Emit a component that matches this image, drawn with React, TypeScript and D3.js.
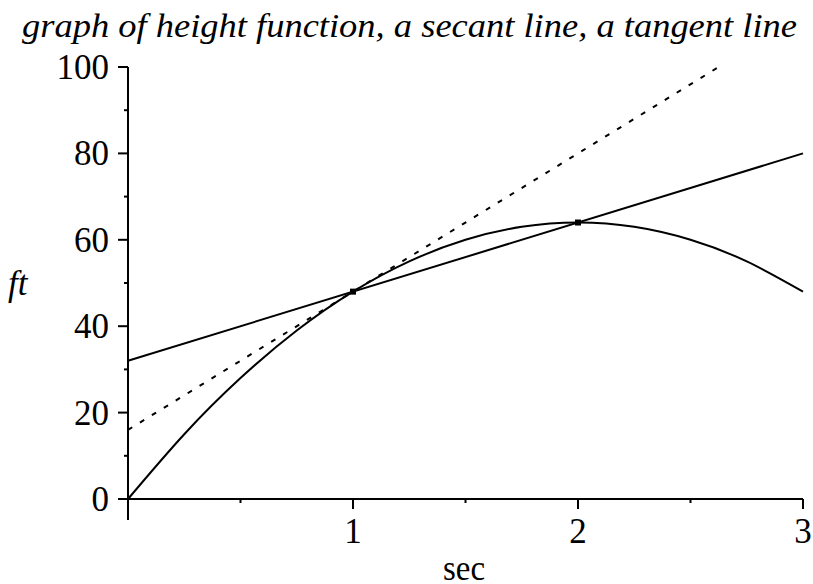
import React, { useRef, useEffect } from 'react';
import * as d3 from 'd3';

// values
const times = [0, 0.25, 0.5, 0.75, 1, 1.25, 1.5, 1.75, 2, 2.25, 2.5, 2.75, 3];
const heights = [0, 15, 28, 39, 48, 55, 60, 63, 64, 63, 60, 55, 48];
const secantPts = [[0, 32], [3, 80]];
const tangentPts = [[0, 16], [2.625, 100]];
const markedPts = [[1, 48], [2, 64]];
const xTicks = [1, 2, 3];
const xMinor = [0.5, 1.5, 2.5];
const yTicks = [0, 20, 40, 60, 80, 100];
const yMinor = [10, 30, 50, 70, 90];

const App = () => {
  const svgRef = useRef<SVGSVGElement>(null);

  useEffect(() => {
    const width = 813;
    const height = 584;
    const svg = d3.select(svgRef.current);
    svg.selectAll("*").remove();
    svg.attr("width", width).attr("height", height);

    const x = d3.scaleLinear().domain([0, 3]).range([128, 803]);
    const y = d3.scaleLinear().domain([0, 100]).range([499, 67]);
    const font = "'Liberation Serif', 'Times New Roman', serif";

    svg.append("text")
      .attr("x", 22).attr("y", 37)
      .attr("font-family", font).attr("font-style", "italic")
      .attr("font-size", 34)
      .attr("textLength", 775).attr("lengthAdjust", "spacingAndGlyphs")
      .text("graph of height function, a secant line, a tangent line");

    const ax = svg.append("g").attr("stroke", "#000").attr("stroke-width", 2);
    // axis lines
    ax.append("line").attr("x1", 118).attr("x2", x(3)).attr("y1", y(0)).attr("y2", y(0));
    ax.append("line").attr("x1", x(0)).attr("x2", x(0)).attr("y1", y(100)).attr("y2", 520);
    ax.selectAll(".xt").data(xTicks).enter().append("line")
      .attr("x1", d => x(d)).attr("x2", d => x(d)).attr("y1", y(0)).attr("y2", y(0) + 10);
    ax.selectAll(".xm").data(xMinor).enter().append("line")
      .attr("x1", d => x(d)).attr("x2", d => x(d)).attr("y1", y(0)).attr("y2", y(0) + 4);
    ax.selectAll(".yt").data(yTicks).enter().append("line")
      .attr("x1", x(0) - 10).attr("x2", x(0)).attr("y1", d => y(d)).attr("y2", d => y(d));
    ax.selectAll(".ym").data(yMinor).enter().append("line")
      .attr("x1", x(0) - 4).attr("x2", x(0)).attr("y1", d => y(d)).attr("y2", d => y(d));

    svg.selectAll(".xl").data(xTicks).enter().append("text")
      .attr("x", d => x(d)).attr("y", 543)
      .attr("text-anchor", "middle")
      .attr("font-family", font).attr("font-size", 35)
      .text(d => d);
    svg.selectAll(".yl").data(yTicks).enter().append("text")
      .attr("x", 109).attr("y", d => y(d) + 12)
      .attr("text-anchor", "end")
      .attr("font-family", font).attr("font-size", 35)
      .text(d => d);

    svg.append("text").attr("x", 443).attr("y", 580)
      .attr("font-family", font).attr("font-size", 36)
      .attr("textLength", 42).attr("lengthAdjust", "spacingAndGlyphs")
      .text("sec");
    svg.append("text").attr("x", 8).attr("y", 295)
      .attr("font-family", font).attr("font-style", "italic").attr("font-size", 35)
      .text("ft");

    const line = d3.line<number[]>().x(d => x(d[0])).y(d => y(d[1]));

    svg.append("path")
      .datum(times.map((t, i) => [t, heights[i]]))
      .attr("d", line.curve(d3.curveNatural))
      .attr("fill", "none").attr("stroke", "#000").attr("stroke-width", 2);
    line.curve(d3.curveLinear);
    svg.append("path").datum(secantPts).attr("d", line)
      .attr("fill", "none").attr("stroke", "#000").attr("stroke-width", 2);
    svg.append("path").datum(tangentPts).attr("d", line)
      .attr("fill", "none").attr("stroke", "#000").attr("stroke-width", 2)
      .attr("stroke-dasharray", "5 9");

    svg.selectAll(".mk").data(markedPts).enter().append("rect")
      .attr("x", d => x(d[0]) - 3).attr("y", d => y(d[1]) - 3)
      .attr("width", 6).attr("height", 6).attr("fill", "#000");
  }, []);

  return (
    <div style={{ position: 'absolute', left: 0, top: 0 }}>
      <svg ref={svgRef}></svg>
    </div>
  );
};

export default App;
